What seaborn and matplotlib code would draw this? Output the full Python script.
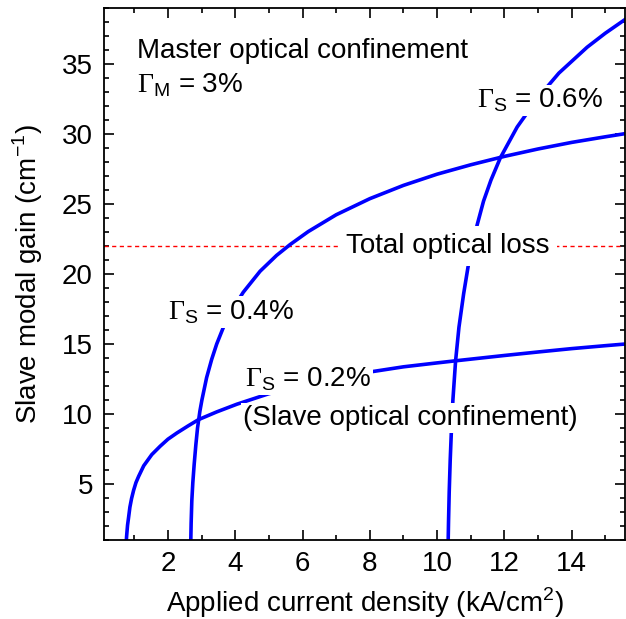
import matplotlib
matplotlib.use("Agg")
import matplotlib.pyplot as plt
import seaborn as sns
import pandas as pd
from matplotlib.ticker import MultipleLocator

# values
j_02 = [0.765, 0.77, 0.78, 0.80, 0.83, 0.87, 0.92, 0.98, 1.05, 1.13, 1.28, 1.52, 1.77, 2.0,
        2.27, 2.6, 2.91, 3.45, 4.05, 5.0, 6.0, 7.0, 8.0, 9.0, 10.0, 10.55, 12.0, 13.0,
        14.0, 15.0, 15.6]
g_02 = [1.0, 1.2, 1.5, 2.06, 2.6, 3.35, 3.97, 4.55, 5.1, 5.55, 6.3, 7.1, 7.7, 8.2,
        8.65, 9.15, 9.6, 10.15, 10.7, 11.45, 12.05, 12.55, 13.0, 13.37, 13.65, 13.8, 14.18, 14.43,
        14.67, 14.88, 15.0]

j_04 = [2.68, 2.69, 2.71, 2.74, 2.78, 2.83, 2.88, 2.95, 3.01, 3.15, 3.30, 3.45, 3.65, 3.9,
        4.24, 4.74, 5.23, 5.63, 6.17, 7.0, 8.0, 9.0, 10.0, 11.0, 12.0, 13.0, 14.0, 15.0, 15.6]
g_04 = [1.0, 2.2, 3.8, 5.1, 6.4, 7.8, 9.0, 10.2, 11.0, 12.6, 13.9, 15.0, 16.2, 17.4,
        18.7, 20.2, 21.33, 22.1, 23.03, 24.23, 25.38, 26.33, 27.13, 27.8, 28.4, 28.93, 29.4, 29.8, 30.03]

j_06 = [10.33, 10.34, 10.36, 10.39, 10.43, 10.47, 10.55, 10.65, 10.79, 10.94, 11.19, 11.38,
        11.6, 11.88, 12.38, 13.0, 13.62, 14.46, 15.0, 15.6]
g_06 = [1.0, 2.3, 4.4, 6.7, 9.1, 11.0, 13.8, 16.2, 18.6, 20.8, 23.5, 25.2,
        26.7, 28.3, 30.5, 32.6, 34.35, 36.2, 37.2, 38.2]

loss_level = 22

curves = pd.concat([
    pd.DataFrame({"J": j_02, "g": g_02, "conf": "0.2%"}),
    pd.DataFrame({"J": j_04, "g": g_04, "conf": "0.4%"}),
    pd.DataFrame({"J": j_06, "g": g_06, "conf": "0.6%"}),
])

sns.set_style("ticks")
plt.rcParams["font.family"] = ["Liberation Sans", "DejaVu Sans"]
plt.rcParams["text.color"] = "black"
plt.rcParams["axes.labelcolor"] = "black"
plt.rcParams["mathtext.fontset"] = "custom"
plt.rcParams["mathtext.rm"] = "Liberation Serif"
plt.rcParams["mathtext.sf"] = "Liberation Sans"

fs = 20
fig = plt.figure(figsize=(6.26, 6.19), dpi=100)
ax = fig.add_axes([104 / 626, 1 - 540 / 619, 521.5 / 626, 532 / 619])

sns.lineplot(data=curves, x="J", y="g", units="conf", estimator=None, sort=False,
             color="#0000ff", lw=2.6, ax=ax, zorder=2)

ax.axhline(loss_level, color="#ff0000", lw=1.0, ls=(0, (3, 2.5)), zorder=1)

box = dict(facecolor="white", edgecolor="none", pad=1.5)
ax.text(1.08, 35.9, "Master optical confinement", fontsize=fs, va="center", zorder=3)
ax.text(1.08, 33.5, r"$\mathrm{\Gamma}_{\mathsf{M}}$ = 3%", fontsize=fs, va="center", zorder=3)
ax.text(11.2, 32.4, r"$\mathrm{\Gamma}_{\mathsf{S}}$ = 0.6%", fontsize=fs, va="center",
        bbox=box, zorder=3)
ax.text(10.32, loss_level, "Total optical loss", fontsize=fs, va="center", ha="center",
        bbox=dict(facecolor="white", edgecolor="none", pad=5), zorder=3)
ax.text(2.0, 17.3, r"$\mathrm{\Gamma}_{\mathsf{S}}$ = 0.4%", fontsize=fs, va="center",
        bbox=box, zorder=3)
ax.text(4.29, 12.5, r"$\mathrm{\Gamma}_{\mathsf{S}}$ = 0.2%", fontsize=fs, va="center",
        bbox=box, zorder=3)
ax.text(4.23, 9.7, "(Slave optical confinement)", fontsize=fs, va="center",
        bbox=box, zorder=3)

ax.set_xlim(0.1, 15.6)
ax.set_ylim(1, 39)
ax.xaxis.set_major_locator(MultipleLocator(2))
ax.xaxis.set_minor_locator(MultipleLocator(1))
ax.yaxis.set_major_locator(MultipleLocator(5))
ax.yaxis.set_minor_locator(MultipleLocator(1))
ax.tick_params(which="both", direction="in", top=True, right=True, width=1.2,
               labelsize=fs, colors="black")
ax.tick_params(which="major", length=7, pad=8)
ax.tick_params(which="minor", length=3.5)
for s in ax.spines.values():
    s.set_linewidth(1.3)
    s.set_color("black")

ax.set_xlabel(r"Applied current density (kA/cm$^{\mathsf{2}}$)", fontsize=fs, labelpad=6)
ax.set_ylabel(r"Slave modal gain (cm$^{\mathsf{-1}}$)", fontsize=fs, labelpad=12)
leg = ax.get_legend()
if leg is not None:
    leg.remove()

fig.savefig("out.png", dpi=100)
